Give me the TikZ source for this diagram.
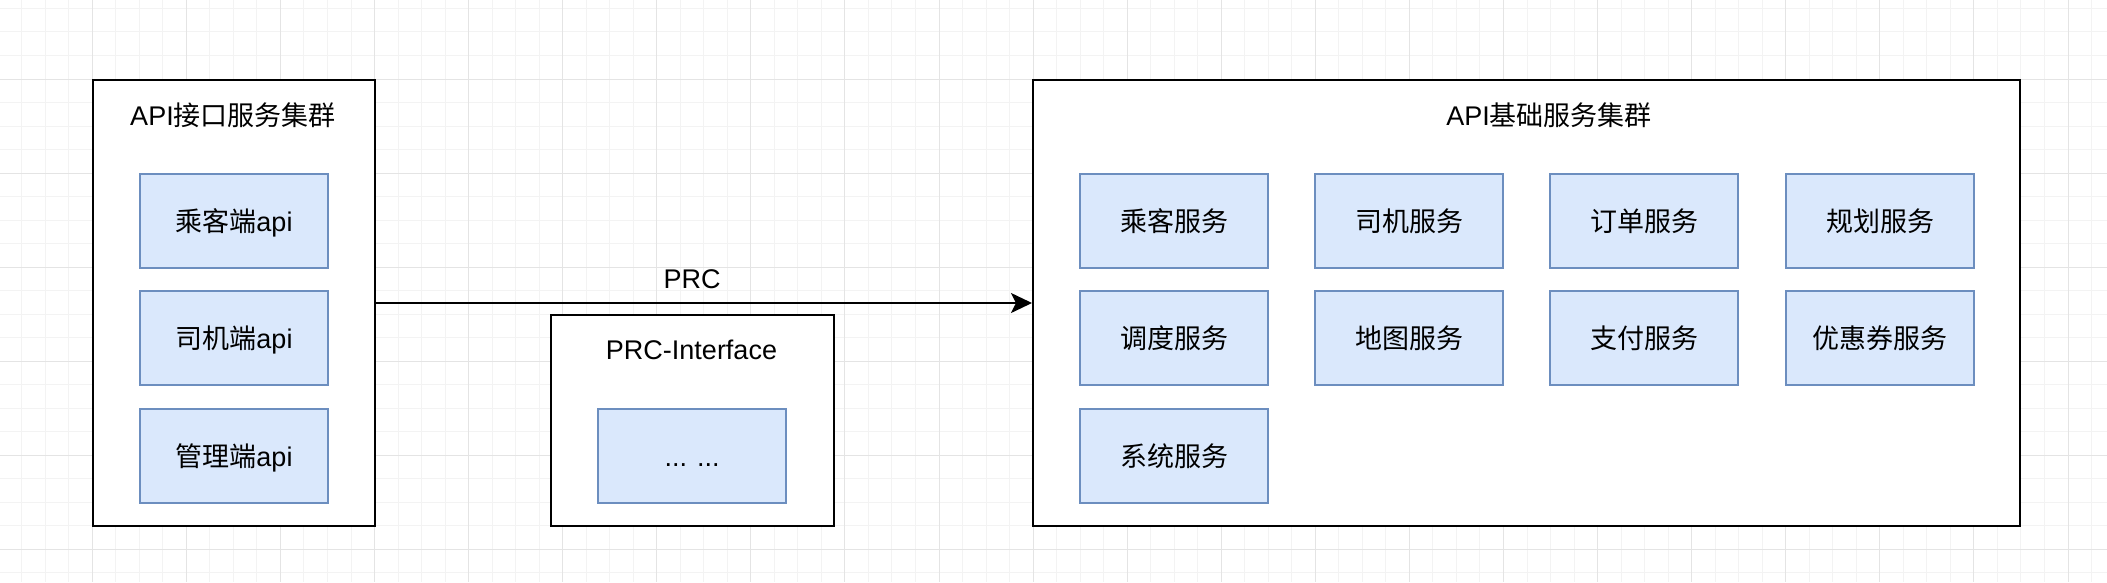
\documentclass[tikz,border=0pt]{standalone}
\usepackage{fontspec}
\setmainfont{Liberation Sans}
\newfontfamily\cjk{Noto Sans CJK SC}
\usetikzlibrary{arrows.meta}
\definecolor{gridminor}{HTML}{F3F3F3}
\definecolor{gridmajor}{HTML}{E4E4E4}
\definecolor{bluefill}{HTML}{DAE8FC}
\definecolor{blueline}{HTML}{6C8EBF}
\begin{document}
\begin{tikzpicture}[x=1pt,y=-1pt,
  txt/.style={font=\fontsize{27}{32}\selectfont, text height=20pt, text depth=0pt, inner sep=0pt},
  cluster/.style={draw=black, fill=white, line width=2pt, inner sep=0pt, anchor=north west},
  svc/.style={txt, draw=blueline, fill=bluefill, line width=2pt, minimum width=188pt, minimum height=94pt, anchor=north west},
  conn/.style={line width=2pt, -{Stealth[length=21pt,width=20pt,inset=5pt]}}
]
\useasboundingbox (0,0) rectangle (2107,582);
\fill[white] (0,0) rectangle (2107,582);
% background grid
\foreach \i in {0,...,89} {\draw[gridminor, line width=1pt] ({21.74+\i*23.52},0) -- ({21.74+\i*23.52},582);}
\foreach \j in {0,...,24} {\draw[gridminor, line width=1pt] (0,{8.44+\j*23.52}) -- (2107,{8.44+\j*23.52});}
\foreach \i in {0,...,21} {\draw[gridmajor, line width=1pt] ({92.3+\i*94.08},0) -- ({92.3+\i*94.08},582);}
\foreach \j in {0,...,5} {\draw[gridmajor, line width=1pt] (0,{79+\j*94.08}) -- (2107,{79+\j*94.08});}

% containers
\node[cluster, minimum width=282pt, minimum height=446pt] (lbox) at (92,79) {};
\node[cluster, minimum width=987pt, minimum height=446pt] (rbox) at (1032,79) {};
\node[cluster, minimum width=283pt, minimum height=211pt] (pbox) at (550,314) {};

% titles
\node[txt] (ltitle) at (233,115) {API{\cjk 接口服务集群}};
\node[txt] (rtitle) at (1549,115) {API{\cjk 基础服务集群}};
\node[txt] (ptitle) at (691.5,349.5) {PRC-Interface};

% left services
\node[svc] (a1) at (139,173) {{\cjk 乘客端}api};
\node[svc] (a2) at (139,290) {{\cjk 司机端}api};
\node[svc] (a3) at (139,408) {{\cjk 管理端}api};

% PRC inner
\node[svc] (p1) at (597,408) {... ...};

% right services
\node[svc] (s1) at (1079,173) {\cjk 乘客服务};
\node[svc] (s2) at (1314,173) {\cjk 司机服务};
\node[svc] (s3) at (1549,173) {\cjk 订单服务};
\node[svc] (s4) at (1785,173) {\cjk 规划服务};
\node[svc] (s5) at (1079,290) {\cjk 调度服务};
\node[svc] (s6) at (1314,290) {\cjk 地图服务};
\node[svc] (s7) at (1549,290) {\cjk 支付服务};
\node[svc] (s8) at (1785,290) {\cjk 优惠券服务};
\node[svc] (s9) at (1079,408) {\cjk 系统服务};

% connector
\draw[conn] (lbox.east) -- (rbox.west);
\node[txt] (prc) at (692,278) {PRC};
\end{tikzpicture}
\end{document}
